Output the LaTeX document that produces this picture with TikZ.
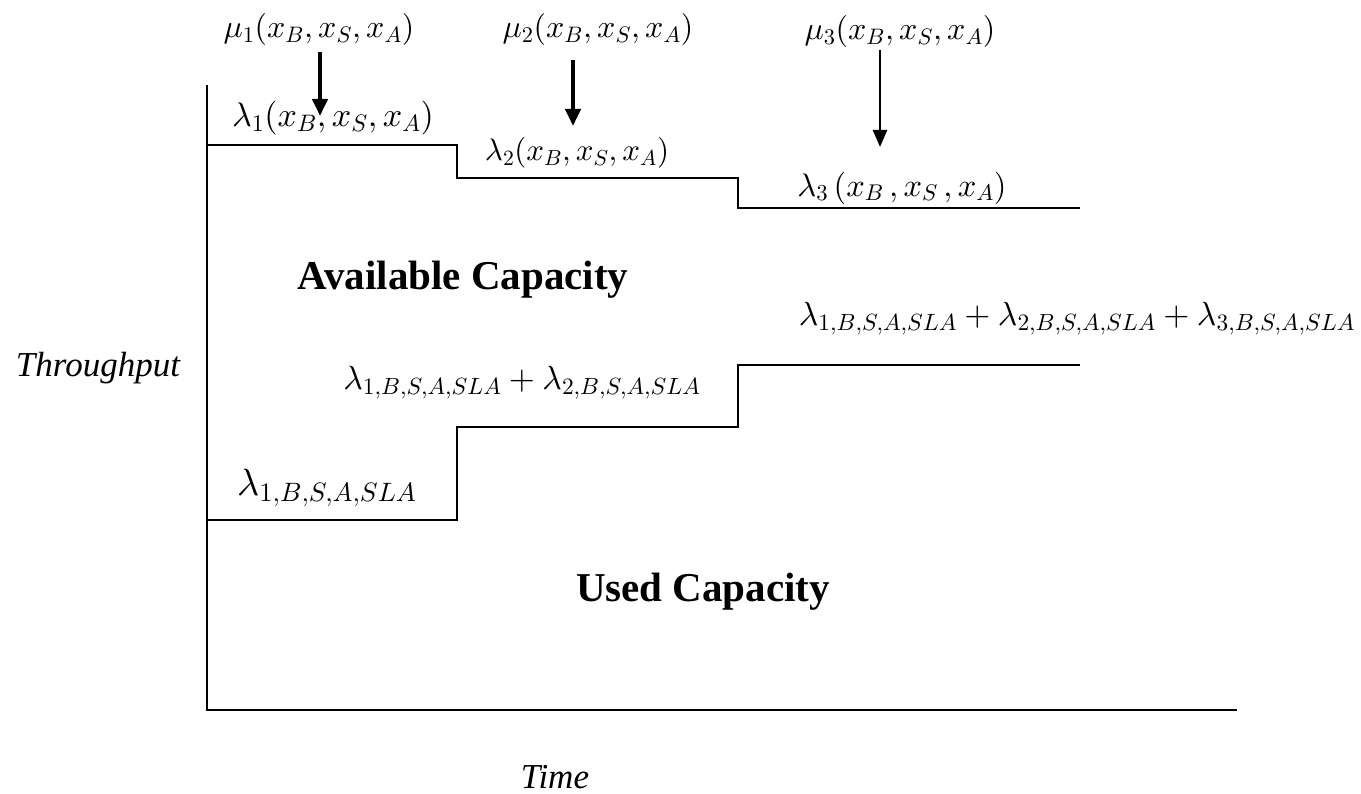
\documentclass[tikz,border=0pt]{standalone}
\usepackage{fontspec}
\setmainfont{Liberation Serif}
\DeclareFontShape{OML}{cmm}{m}{it}{<->cmmi10}{}
\DeclareFontShape{OT1}{cmr}{m}{n}{<->cmr10}{}
\DeclareFontShape{OMS}{cmsy}{m}{n}{<->cmsy10}{}
\usetikzlibrary{arrows.meta}
\begin{document}
\begin{tikzpicture}[x=1pt,y=-1pt,
  thinline/.style={line width=2pt},
  bigarrow/.style={line width=4pt,-{Triangle[width=15pt,length=17pt]}},
  mlabel/.style={inner sep=0pt,font=\fontsize{32}{36}\selectfont},
  biglabel/.style={inner sep=0pt,font=\fontsize{33.5}{38}\selectfont},
  boldlabel/.style={inner sep=0pt,font=\fontsize{41}{44}\selectfont\bfseries},
  axlabel/.style={inner sep=0pt,font=\fontsize{35}{38}\selectfont\itshape}]
\useasboundingbox (0,0) rectangle (1361,794);
% axes
\coordinate (ytop) at (207,85);
\coordinate (orig) at (207,710);
\coordinate (xend) at (1237,710);
\draw[thinline] (ytop) -- (orig) -- (xend);
% upper step curve
\coordinate (u0) at (207,145);
\coordinate (u1) at (457,145);
\coordinate (u2) at (457,178);
\coordinate (u3) at (738,178);
\coordinate (u4) at (738,208);
\coordinate (u5) at (1080,208);
\draw[thinline] (u0) -- (u1) -- (u2) -- (u3) -- (u4) -- (u5);
% lower step curve
\coordinate (l0) at (207,520);
\coordinate (l1) at (457,520);
\coordinate (l2) at (457,427);
\coordinate (l3) at (738,427);
\coordinate (l4) at (738,365);
\coordinate (l5) at (1080,365);
\draw[thinline] (l0) -- (l1) -- (l2) -- (l3) -- (l4) -- (l5);
% mu labels
\node[mlabel] (mu1) at (319,30) {$\mu_1(x_B, x_S, x_A)$};
\node[mlabel] (mu2) at (598,30) {$\mu_2(x_B, x_S, x_A)$};
\node[mlabel] (mu3) at (900,32) {$\mu_3(x_B, x_S, x_A)$};
% lambda labels
\node[mlabel,font=\fontsize{34}{38}\selectfont] (la1) at (333,118) {$\lambda_1(x_B, x_S, x_A)$};
\node[mlabel,font=\fontsize{31}{35}\selectfont] (la2) at (577,153) {$\lambda_2(x_B, x_S, x_A)$};
\node[mlabel,font=\fontsize{32.5}{36}\selectfont] (la3) at (902,188) {$\lambda_3\,(x_B\,, x_S\,, x_A)$};
% arrows
\coordinate (a1) at (320,52);
\coordinate (t1) at (320,116);
\coordinate (a2) at (573,60);
\coordinate (t2) at (573,126);
\coordinate (a3) at (880,50);
\coordinate (t3) at (880,147);
\draw[bigarrow] (a1) -- (t1);
\draw[bigarrow] (a2) -- (t2);
\draw[line width=2.5pt,-{Triangle[width=14pt,length=17pt]}] (a3) -- (t3);
% region labels
\node[boldlabel] (avail) at (463,280) {Available Capacity};
\node[boldlabel] (used) at (703,592) {Used Capacity};
% sums
\node[biglabel,anchor=west,font=\fontsize{38}{42}\selectfont] (s1) at (237,488) {$\lambda_{1,B,S,A,SLA}$};
\node[biglabel] (s2) at (522,383) {$\lambda_{1,B,S,A,SLA}+\lambda_{2,B,S,A,SLA}$};
\node[biglabel] (s3) at (1077,319) {$\lambda_{1,B,S,A,SLA}+\lambda_{2,B,S,A,SLA}+\lambda_{3,B,S,A,SLA}$};
% axis labels
\node[axlabel] (thr) at (98,368) {Throughput};
\node[axlabel] (time) at (555,777) {Time};
\end{tikzpicture}
\end{document}
